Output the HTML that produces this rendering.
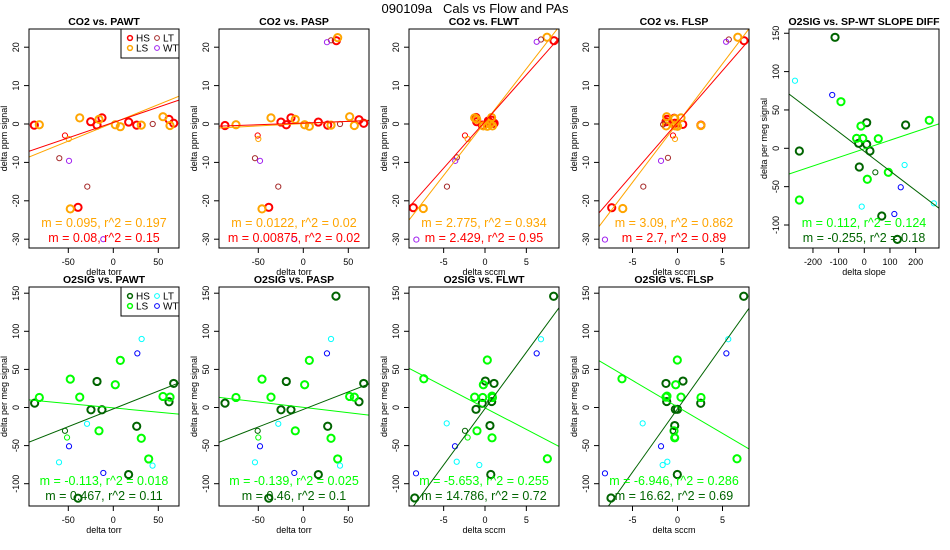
<!DOCTYPE html>
<html><head><meta charset="utf-8"><style>
html,body{margin:0;padding:0;background:#fff;}
svg{display:block;font-family:"Liberation Sans",sans-serif;}
</style></head><body>
<svg id="chart" width="950" height="550" viewBox="0 0 950 550" xmlns="http://www.w3.org/2000/svg">
<rect width="950" height="550" fill="#fff"/>
<text x="475" y="13" text-anchor="middle" font-size="13" style="white-space:pre">090109a   Cals vs Flow and PAs</text>
</svg>
<script>
// ---- data: CO2 vs PAWT ----
const p1_HS_x=[-87.8,-39.2,-25.1,-18.1,-12.6,17.1,26,61.9,67.1];
const p1_HS_y=[-0.3,-21.7,0.6,-0.3,1.6,0.5,-0.3,1.2,0.2];
const p1_LS_x=[-82.2,-47.8,-37.3,-15.9,2.2,7.8,31.1,55.2,63];
const p1_LS_y=[-0.2,-22.1,1.6,1.2,-0.2,-0.7,-0.3,1.9,-0.4];
const p1_LT_x=[-60,-28.9,43.8];
const p1_LT_y=[-8.9,-16.3,0];
const p1_hs_x=[-53.7];const p1_hs_y=[-3.0];
const p1_ls_x=[-49.5];const p1_ls_y=[-3.9];
const p1_WT_x=[-49.2,-11.1];
const p1_WT_y=[-9.6,-30];
// ---- CO2 vs PASP ----
const p2_HS_x=[-87,-38.4,-24.8,-18.9,-13.7,16.7,27.1,36.7,61.9,67.1];
const p2_HS_y=[-0.4,-21.7,0.5,-0.2,1.6,0.5,-0.3,21.7,1.1,0.2];
const p2_LS_x=[-74.8,-45.9,-35.9,-8.9,1.5,6.7,30.8,38.2,51.5,56.7];
const p2_LS_y=[-0.2,-22.1,1.6,1.2,-0.2,-0.6,-0.3,22.5,1.9,-0.4];
const p2_LT_x=[-53.7,-27.8,30.8,40.8];
const p2_LT_y=[-8.9,-16.3,21.8,0];
const p2_hs_x=[-50.7];const p2_hs_y=[-3.0];
const p2_ls_x=[-50];const p2_ls_y=[-3.9];
const p2_WT_x=[-48.1,-10,26.3];
const p2_WT_y=[-9.6,-30,21.3];
// ---- CO2 vs FLWT ----
const p3_HS_x=[-8.67,8.34,-1.09,-1.0,0.4,1.0,0.8,-0.33,1.1,0.5];
const p3_HS_y=[-21.8,21.7,1.7,0.6,0.8,0.2,1.0,-0.3,0.2,0.5];
const p3_LS_x=[-7.46,7.5,-1.25,0.8,0.28,-0.2,0.9,0.6,-1.0];
const p3_LS_y=[-22,22.6,1.6,1.7,-0.6,-0.5,-0.5,0,1.2];
const p3_LT_x=[-4.6,-3.4,6.77];
const p3_LT_y=[-16.3,-8.7,22];
const p3_hs_x=[-2.42];const p3_hs_y=[-3.0];
const p3_ls_x=[-2.1];const p3_ls_y=[-3.9];
const p3_WT_x=[-8.3,-3.6,6.25];
const p3_WT_y=[-30.1,-9.6,21.4];
// ---- CO2 vs FLSP ----
const p4_HS_x=[-7.31,7.39,-1.17,-1.28,-0.36,0.58,2.6,-0.3];
const p4_HS_y=[-21.8,21.7,1.2,0.6,1.5,-0.1,-0.3,0.2];
const p4_LS_x=[-6.08,6.7,-1.2,-1.26,0.39,-0.28,0,2.6,-0.3];
const p4_LS_y=[-22,22.6,1.9,-0.5,1.6,-0.5,-0.6,-0.4,1.4];
const p4_LT_x=[-3.8,-1.06,-1.6,5.7];
const p4_LT_y=[-16.3,-8.8,-0.1,22];
const p4_hs_x=[-0.5];const p4_hs_y=[-3.0];
const p4_ls_x=[-0.28];const p4_ls_y=[-3.9];
const p4_WT_x=[-8.06,-1.83,5.4];
const p4_WT_y=[-30.1,-9.6,21.4];
// ---- O2SIG vs SP-WT slope diff ----
const p5_HS_x=[-114,-253,9.3,-22,9.3,22,-19.5,161,68,128.6];
const p5_HS_y=[144.7,-3.5,33.4,6.5,5.2,-3.5,-24.4,30.4,-88.3,-118.7];
const p5_LS_x=[-91,-13,-30,-6,54.5,93.5,11.7,-253,253];
const p5_LS_y=[60.8,29,13,13,12.5,-31.3,-40.4,-67.4,36.5];
const p5_LT_x=[-270,157,-10,271];
const p5_LT_y=[88.1,-21.8,-76,-71.7];
const p5_hs_x=[43];const p5_hs_y=[-31.3];
const p5_WT_x=[-125,142,117];
const p5_WT_y=[69.5,-50.8,-85.7];
// ---- O2SIG vs PAWT ----
const q1_HS_x=[-87.4,-39.2,-18.1,-24.8,-12.6,26,17,61.9,67.1];
const q1_HS_y=[5.7,-119,34.2,-3,-3,-24.6,-88,7.5,31.6];
const q1_LS_x=[-82.2,-47.8,-37.3,-15.9,2.2,7.8,31.1,39.3,55.2,63];
const q1_LS_y=[13.2,37.2,13.6,-30.6,29.9,61.8,-40.4,-67.5,14.5,13.6];
const q1_LT_x=[-60.3,-29.2,31.5,43.6];
const q1_LT_y=[-71.9,-21.4,89.9,-76.3];
const q1_hs_x=[-53.7];const q1_hs_y=[-30.6];
const q1_ls_x=[-51.4];const q1_ls_y=[-39.4];
const q1_WT_x=[-49.2,-11.1,26.7];
const q1_WT_y=[-50.9,-85.9,71];
// ---- O2SIG vs PASP ----
const q2_HS_x=[-87,-38.4,-18.9,-24.8,-13.7,27.1,16.7,36.3,61.9,67.1];
const q2_HS_y=[5.7,-119,34.2,-3,-3,-24.6,-88,146.2,7.5,31.6];
const q2_LS_x=[-74.8,-45.9,-35.9,-8.9,1.5,6.7,30.8,38.2,51.5,56.7];
const q2_LS_y=[13.2,37.2,13.6,-30.6,29.9,61.8,-40.4,-67.5,14.5,13.6];
const q2_LT_x=[-53.7,-27.8,30.8,40.8];
const q2_LT_y=[-71.9,-21.4,89.9,-76.3];
const q2_hs_x=[-50.7];const q2_hs_y=[-30.6];
const q2_ls_x=[-50];const q2_ls_y=[-39.4];
const q2_WT_x=[-48.1,-10,26.3];
const q2_WT_y=[-50.9,-85.9,71];
// ---- O2SIG vs FLWT ----
const q3_HS_x=[-8.5,8.3,-1.09,-0.33,0.04,1.09,0.81,0.6,0.7];
const q3_HS_y=[-118.7,146,-2.4,5.5,34.7,31.6,7.8,-23.7,-87.9];
const q3_LS_x=[-7.4,0.28,-0.2,-1.25,-0.28,0.85,0.9,-0.97,0.85,7.54];
const q3_LS_y=[37.7,62.3,29.9,13.6,13.2,14.9,13.2,-30.6,-39.8,-67.3];
const q3_LT_x=[-4.63,-3.42,-0.69,6.77];
const q3_LT_y=[-20.8,-71.2,-75.5,89.6];
const q3_hs_x=[-2.42];const q3_hs_y=[-30.6];
const q3_ls_x=[-2.1];const q3_ls_y=[-39.4];
const q3_WT_x=[-8.34,-3.63,6.25];
const q3_WT_y=[-86.4,-50.9,71];
// ---- O2SIG vs FLSP ----
const q4_HS_x=[-7.39,7.36,-1.28,-1.2,-0.24,0,0.61,-0.31,2.58,-0.02];
const q4_HS_y=[-118.7,146,31.6,7.8,-2.4,-2.4,34.7,-23.7,5.6,-87.9];
const q4_LS_x=[-6.17,-0.02,-0.2,-1.28,-1.17,0.39,2.61,-0.39,-0.31,6.61];
const q4_LS_y=[37.7,62.3,29.9,13.6,14.9,13.6,13.2,-30.6,-39.8,-67.3];
const q4_LT_x=[-3.87,-1.13,-1.65,5.64];
const q4_LT_y=[-20.8,-71.2,-75.5,89.6];
const q4_hs_x=[-0.5];const q4_hs_y=[-30.6];
const q4_ls_x=[-0.28];const q4_ls_y=[-39.4];
const q4_WT_x=[-8.06,-1.83,5.43];
const q4_WT_y=[-86.4,-50.9,71];
// ---- fits [intercept, slope] ----
const fitHS=[[0.4,0.08],[0.25,0.00875],[0.65,2.429],[0.4,2.7],[-4,-0.255],[-1.8,0.467],[-2.5,0.46],[-1.4,14.786],[-1.8,16.62]];
const fitLS=[[0.3,0.095],[0.1,0.0122],[0.5,2.775],[0.25,3.09],[-0.7,0.112],[-0.5,-0.113],[0.2,-0.139],[-0.5,-5.653],[0.8,-6.946]];
const statLS=["m = 0.095, r^2 = 0.197","m = 0.0122, r^2 = 0.02","m = 2.775, r^2 = 0.934","m = 3.09, r^2 = 0.862","m = 0.112, r^2 = 0.124","m = -0.113, r^2 = 0.018","m = -0.139, r^2 = 0.025","m = -5.653, r^2 = 0.255","m = -6.946, r^2 = 0.286"];
const statHS=["m = 0.08, r^2 = 0.15","m = 0.00875, r^2 = 0.02","m = 2.429, r^2 = 0.95","m = 2.7, r^2 = 0.89","m = -0.255, r^2 = 0.18","m = 0.467, r^2 = 0.11","m = 0.46, r^2 = 0.1","m = 14.786, r^2 = 0.72","m = 16.62, r^2 = 0.69"];
const ticksCO2=[-30,-20,-10,0,10,20];
const ticksO2=[-100,-50,0,50,100,150];
const ticksTorr=[-50,0,50];
const ticksSccm=[-5,0,5];
const ticksSlope=[-200,-100,0,100,200];

const NS="http://www.w3.org/2000/svg";
const svg=document.getElementById('chart');
function mk(tag,attrs,parent){const e=document.createElementNS(NS,tag);for(const k in attrs)e.setAttribute(k,attrs[k]);(parent||svg).appendChild(e);return e;}

const co2Pal={HS:'#FF0000',LS:'#FFA500',LT:'#A52A2A',WT:'#A020F0'};
const o2Pal={HS:'#006400',LS:'#00FF00',LT:'#00FFFF',WT:'#0000FF'};

const panels=[
 {id:'p1',title:'CO2 vs. PAWT',L:29,T:29,x0:113.3,sx:0.9,y0:124,sy:3.84,xt:ticksTorr,yt:ticksCO2,xl:'delta torr',yl:'delta ppm signal',pal:co2Pal,legend:true,k:0},
 {id:'p2',title:'CO2 vs. PASP',L:219,T:29,x0:303.3,sx:0.9,y0:124,sy:3.84,xt:ticksTorr,yt:ticksCO2,xl:'delta torr',yl:'delta ppm signal',pal:co2Pal,k:1},
 {id:'p3',title:'CO2 vs. FLWT',L:409,T:29,x0:485,sx:8.27,y0:124,sy:3.84,xt:ticksSccm,yt:ticksCO2,xl:'delta sccm',yl:'delta ppm signal',pal:co2Pal,k:2},
 {id:'p4',title:'CO2 vs. FLSP',L:599,T:29,x0:677.5,sx:9.0,y0:124,sy:3.84,xt:ticksSccm,yt:ticksCO2,xl:'delta sccm',yl:'delta ppm signal',pal:co2Pal,k:3},
 {id:'p5',title:'O2SIG vs. SP-WT SLOPE DIFF',L:789,T:29,x0:864.3,sx:0.2567,y0:148.3,sy:0.767,xt:ticksSlope,yt:ticksO2,xl:'delta slope',yl:'delta per meg signal',pal:o2Pal,k:4},
 {id:'q1',title:'O2SIG vs. PAWT',L:29,T:287,x0:113.3,sx:0.9,y0:407.5,sy:0.762,xt:ticksTorr,yt:ticksO2,xl:'delta torr',yl:'delta per meg signal',pal:o2Pal,legend:true,k:5},
 {id:'q2',title:'O2SIG vs. PASP',L:219,T:287,x0:303.3,sx:0.9,y0:407.5,sy:0.762,xt:ticksTorr,yt:ticksO2,xl:'delta torr',yl:'delta per meg signal',pal:o2Pal,k:6},
 {id:'q3',title:'O2SIG vs. FLWT',L:409,T:287,x0:485,sx:8.27,y0:407.5,sy:0.762,xt:ticksSccm,yt:ticksO2,xl:'delta sccm',yl:'delta per meg signal',pal:o2Pal,k:7},
 {id:'q4',title:'O2SIG vs. FLSP',L:599,T:287,x0:677.5,sx:9.0,y0:407.5,sy:0.762,xt:ticksSccm,yt:ticksO2,xl:'delta sccm',yl:'delta per meg signal',pal:o2Pal,k:8}
];
const DATA={
 p1:[p1_HS_x,p1_HS_y,p1_LS_x,p1_LS_y,p1_LT_x,p1_LT_y,p1_hs_x,p1_hs_y,p1_ls_x,p1_ls_y,p1_WT_x,p1_WT_y],
 p2:[p2_HS_x,p2_HS_y,p2_LS_x,p2_LS_y,p2_LT_x,p2_LT_y,p2_hs_x,p2_hs_y,p2_ls_x,p2_ls_y,p2_WT_x,p2_WT_y],
 p3:[p3_HS_x,p3_HS_y,p3_LS_x,p3_LS_y,p3_LT_x,p3_LT_y,p3_hs_x,p3_hs_y,p3_ls_x,p3_ls_y,p3_WT_x,p3_WT_y],
 p4:[p4_HS_x,p4_HS_y,p4_LS_x,p4_LS_y,p4_LT_x,p4_LT_y,p4_hs_x,p4_hs_y,p4_ls_x,p4_ls_y,p4_WT_x,p4_WT_y],
 p5:[p5_HS_x,p5_HS_y,p5_LS_x,p5_LS_y,p5_LT_x,p5_LT_y,p5_hs_x,p5_hs_y,[],[],p5_WT_x,p5_WT_y],
 q1:[q1_HS_x,q1_HS_y,q1_LS_x,q1_LS_y,q1_LT_x,q1_LT_y,q1_hs_x,q1_hs_y,q1_ls_x,q1_ls_y,q1_WT_x,q1_WT_y],
 q2:[q2_HS_x,q2_HS_y,q2_LS_x,q2_LS_y,q2_LT_x,q2_LT_y,q2_hs_x,q2_hs_y,q2_ls_x,q2_ls_y,q2_WT_x,q2_WT_y],
 q3:[q3_HS_x,q3_HS_y,q3_LS_x,q3_LS_y,q3_LT_x,q3_LT_y,q3_hs_x,q3_hs_y,q3_ls_x,q3_ls_y,q3_WT_x,q3_WT_y],
 q4:[q4_HS_x,q4_HS_y,q4_LS_x,q4_LS_y,q4_LT_x,q4_LT_y,q4_hs_x,q4_hs_y,q4_ls_x,q4_ls_y,q4_WT_x,q4_WT_y]
};
const W=150,H=219;
panels.forEach(p=>{
 const g=mk('g',{});
 
 
 const X=v=>p.x0+v*p.sx, Y=v=>p.y0-v*p.sy;
 const cx=p.L+W/2;
 const clip=mk('clipPath',{id:'clip-'+p.id},g);
 mk('rect',{x:p.L,y:p.T,width:W,height:H},clip);
 const t=mk('text',{x:cx,y:p.T-4,'text-anchor':'middle','font-size':'10.5','font-weight':'bold'},g);
 t.textContent=p.title;
 
 
 p.yt.forEach(v=>{
  const y=Y(v);
  const tk=mk('line',{x1:p.L-5,x2:p.L,y1:y,y2:y,stroke:'#000','stroke-width':1},g);
  
  
  const tl=mk('text',{x:p.L-10,y:y,'text-anchor':'middle','font-size':'9',transform:'rotate(-90 '+(p.L-10)+' '+y+')'},g);
  tl.textContent=v;
  
  
 });
 p.xt.forEach(v=>{
  const x=X(v);
  const tk=mk('line',{x1:x,x2:x,y1:p.T+H,y2:p.T+H+5,stroke:'#000','stroke-width':1},g);
  
  
  const tl=mk('text',{x:x,y:p.T+H+17,'text-anchor':'middle','font-size':'9'},g);
  tl.textContent=v;
  
  
 });
 const xl=mk('text',{x:cx,y:p.T+H+27,'text-anchor':'middle','font-size':'9'},g);
 xl.textContent=p.xl;
 
 
 const yx=p.L-22, yy=p.T+H/2;
 const yl=mk('text',{x:yx,y:yy,'text-anchor':'middle','font-size':'9',transform:'rotate(-90 '+yx+' '+yy+')'},g);
 yl.textContent=p.yl;
 
 
 const d=DATA[p.id];
 const specs=[['HS',true],['LS',true],['LT',false],['HS',false],['LS',false],['WT',false]];
 const pg=mk('g',{'clip-path':'url(#clip-'+p.id+')'},g);
 specs.forEach((s,i)=>{
  const xs=d[2*i], ys=d[2*i+1];
  xs.forEach((xv,j)=>{
   const c=mk('circle',{cx:X(xv),cy:Y(ys[j]),r:s[1]?3.6:2.6,fill:'none',stroke:p.pal[s[0]],'stroke-width':s[1]?2:1},pg);
   
   
  });
 });
 const xmin=(p.L-p.x0)/p.sx, xmax=(p.L+W-p.x0)/p.sx;
 [[fitLS[p.k],p.pal.LS,'fit-line-ls'],[fitHS[p.k],p.pal.HS,'fit-line-hs']].forEach(f=>{
  const a=f[0][0], b=f[0][1];
  const ln=mk('line',{x1:X(xmin),y1:Y(a+b*xmin),x2:X(xmax),y2:Y(a+b*xmax),stroke:f[1],'stroke-width':1},pg);
  
  
 });
 const s1=mk('text',{x:cx,y:p.T+H-21,'text-anchor':'middle','font-size':'12.5',fill:p.pal.LS},g);
 s1.textContent=statLS[p.k];
 
 
 const s2=mk('text',{x:cx,y:p.T+H-6,'text-anchor':'middle','font-size':'12.5',fill:p.pal.HS},g);
 s2.textContent=statHS[p.k];
 
 
 const bx=mk('rect',{x:p.L,y:p.T,width:W,height:H,fill:'none',stroke:'#000','stroke-width':1},g);
 
 
 if(p.legend){
  const lg=mk('g',{},g);
  
  
  mk('rect',{x:p.L+92,y:p.T,width:58,height:29,fill:'#fff',stroke:'#000','stroke-width':1},lg);
  const items=[['HS',0,0],['LT',1,0],['LS',0,1],['WT',1,1]];
  items.forEach(it=>{
   const ex=p.L+101+it[1]*27, ey=p.T+9+it[2]*10;
   const thick=(it[0]==='HS'||it[0]==='LS');
   const c=mk('circle',{cx:ex,cy:ey,r:2.4,fill:'none',stroke:p.pal[it[0]],'stroke-width':thick?1.5:1},lg);
   
   
   const tx=mk('text',{x:ex+6,y:ey+3.5,'font-size':'10'},lg);
   tx.textContent=it[0];
   
   
  });
 }
});
</script>
</body></html>
